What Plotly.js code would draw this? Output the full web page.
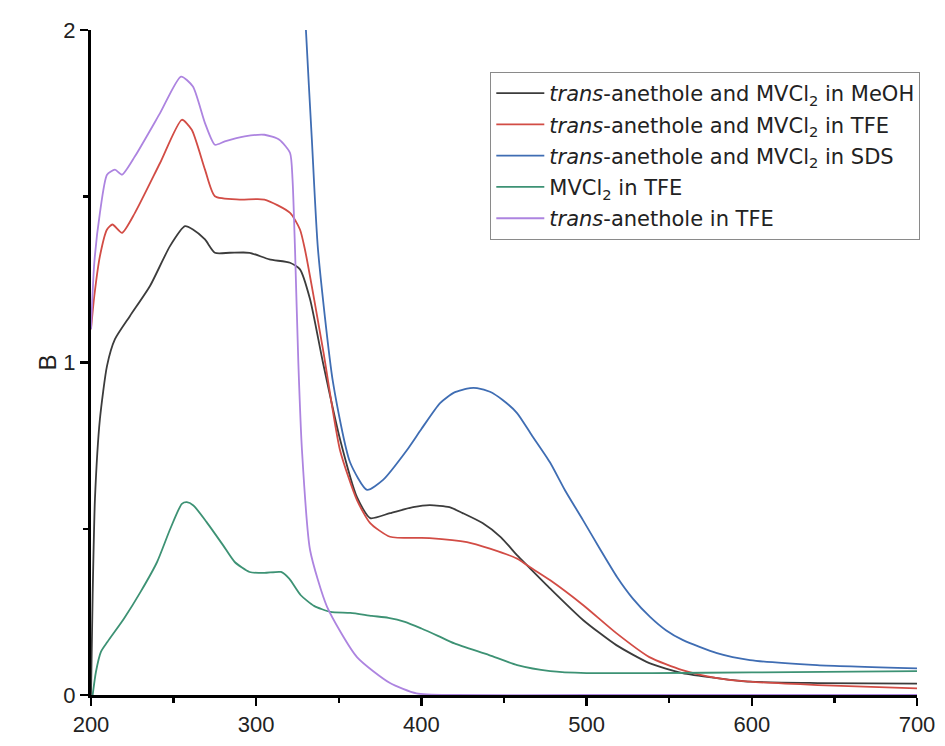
<!DOCTYPE html>
<html>
<head>
<meta charset="utf-8">
<script src="https://cdn.plot.ly/plotly-3.0.1.min.js"></script>
<style>html,body{margin:0;padding:0;background:#fff;}#chart{width:945px;height:746px;}</style>
</head>
<body>
<div id="chart"></div>
<script>
// Series names
const names = [
  "<i>trans</i>-anethole and MVCl<sub>2</sub> in MeOH",
  "<i>trans</i>-anethole and MVCl<sub>2</sub> in TFE",
  "<i>trans</i>-anethole and MVCl<sub>2</sub> in SDS",
  "MVCl<sub>2</sub> in TFE",
  "<i>trans</i>-anethole in TFE"
];

// Axis tick labels
const xTickVals = [200,300,400,500,600,700];
const xTickText = ["200","300","400","500","600","700"];
const yTickVals = [0,1,2];
const yTickText = ["0","1","2"];

// MeOH (black)
const meohX = [200,201,202.4,205.4,209.7,214.5,223.6,235.7,247.8,256.9,261.7,269,275,284,296,308,320.5,326.5,332.6,340.4,350.7,361,369,381,395,405,417,425,437,448,458,464,478,498,518,538,558,579,599,640,700];
const meohY = [0.0,0.3,0.59,0.83,0.99,1.07,1.14,1.23,1.35,1.41,1.40,1.37,1.33,1.33,1.33,1.31,1.30,1.28,1.19,1.0,0.77,0.595,0.532,0.547,0.565,0.571,0.565,0.547,0.517,0.475,0.42,0.39,0.32,0.225,0.15,0.096,0.066,0.051,0.04,0.036,0.034];

// TFE (red)
const tfeX = [200,202,205.4,209.7,213,218.8,226.6,241.8,255,261,269,275,290,305,320.5,326.5,329.5,340.4,350.7,361,369,381,405,427.6,441.5,458,464,478,498,518,538,558,579,599,640,700];
const tfeY = [1.1,1.2,1.32,1.40,1.415,1.39,1.45,1.60,1.73,1.70,1.58,1.50,1.49,1.49,1.45,1.40,1.34,1.04,0.737,0.586,0.517,0.476,0.472,0.46,0.44,0.41,0.39,0.345,0.27,0.186,0.114,0.075,0.051,0.04,0.03,0.02];

// SDS (blue)
const sdsX = [328.5,330.1,333.7,337.4,346.5,356.8,367.1,376.8,391.3,400,411.3,420,429.4,433.7,441.5,449,457.9,467,477.8,487,497.8,508,518.4,528,538.4,548,558.4,578.9,598.9,639.5,700];
const sdsY = [2.2,2.0,1.67,1.34,0.94,0.70,0.617,0.647,0.737,0.80,0.878,0.91,0.923,0.923,0.912,0.888,0.848,0.78,0.70,0.615,0.526,0.44,0.355,0.29,0.235,0.195,0.165,0.126,0.105,0.09,0.08];

// MVCl2 in TFE (green)
const mvX = [201,203,206,210,220,230,240,248,255,258,262,270,280,287,296,305,315,320,327,335,345,357,370,380,390,400,410,420,441,458,478,500,540,600,700];
const mvY = [0.0,0.07,0.13,0.16,0.23,0.31,0.40,0.50,0.575,0.58,0.57,0.52,0.45,0.40,0.37,0.367,0.37,0.35,0.30,0.268,0.25,0.247,0.238,0.232,0.22,0.2,0.178,0.155,0.12,0.09,0.072,0.066,0.066,0.068,0.072];

// trans-anethole in TFE (purple)
const anX = [200,202,205.4,209.7,214.5,218.8,226.6,241.8,254.5,261.7,269,275,281,293,305,314,320.5,322,323.5,325.5,327.7,332.6,342.9,361,381,397,420,500,600,700];
const anY = [1.1,1.3,1.45,1.565,1.58,1.565,1.62,1.75,1.86,1.83,1.72,1.655,1.665,1.68,1.685,1.67,1.63,1.55,1.34,1.0,0.737,0.436,0.265,0.114,0.036,0.005,0.0,0.0,0.0,0.0];

const colors = ["#3c3c3c","#d24c45","#3f6db3","#3d9274","#ad84e0"];
const xs = [meohX, tfeX, sdsX, mvX, anX];
const ys = [meohY, tfeY, sdsY, mvY, anY];

const traces = names.map((n,i)=>({
  x: xs[i], y: ys[i], name: n, type: 'scatter', mode: 'lines',
  line: {color: colors[i], width: 1.8, shape: 'spline', smoothing: 0.6},
  legendgroup: 'g'+i
}));

const FAM = 'Liberation Sans, Arial, sans-serif';

const layout = {
  width: 945, height: 746,
  font: {family: FAM, size: 22, color: '#222'},
  margin: {l: 91, r: 28, t: 30, b: 51},
  paper_bgcolor: '#fff', plot_bgcolor: '#fff',
  showlegend: true,
  legend: {
    x: 1.004, y: 0.937, xanchor: 'right', yanchor: 'top',
    bordercolor: '#8a8a8a', borderwidth: 1, bgcolor: 'rgba(255,255,255,0)',
    font: {family: 'DejaVu Sans, sans-serif', size: 21, color: '#222'},
    tracegroupgap: 1, itemwidth: 48
  },
  xaxis: {
    range: [200, 700], showgrid: false, zeroline: false,
    showline: true, linecolor: '#000', linewidth: 3,
    ticks: 'outside', ticklen: 8, tickwidth: 2.5, tickcolor: '#000',
    tickmode: 'array', tickvals: xTickVals, ticktext: xTickText,
    tickfont: {family: FAM, size: 22, color: '#222'},
    minor: {tickmode: 'array', tickvals: [250,350,450,550,650], ticks: 'outside', ticklen: 5, tickwidth: 2.5, tickcolor: '#000'}
  },
  yaxis: {
    range: [0, 2], showgrid: false, zeroline: false,
    showline: true, linecolor: '#000', linewidth: 3,
    ticks: 'outside', ticklen: 8, tickwidth: 2.5, tickcolor: '#000',
    tickmode: 'array', tickvals: yTickVals, ticktext: yTickText,
    tickfont: {family: FAM, size: 22, color: '#222'},
    minor: {tickmode: 'array', tickvals: [0.5,1.5], ticks: 'outside', ticklen: 5, tickwidth: 2.5, tickcolor: '#000'},
    title: {text: 'B', font: {family: FAM, size: 24, color: '#222'}, standoff: 0}
  }
};

Plotly.newPlot('chart', traces, layout, {displayModeBar: false, staticPlot: true});
</script>
</body>
</html>
